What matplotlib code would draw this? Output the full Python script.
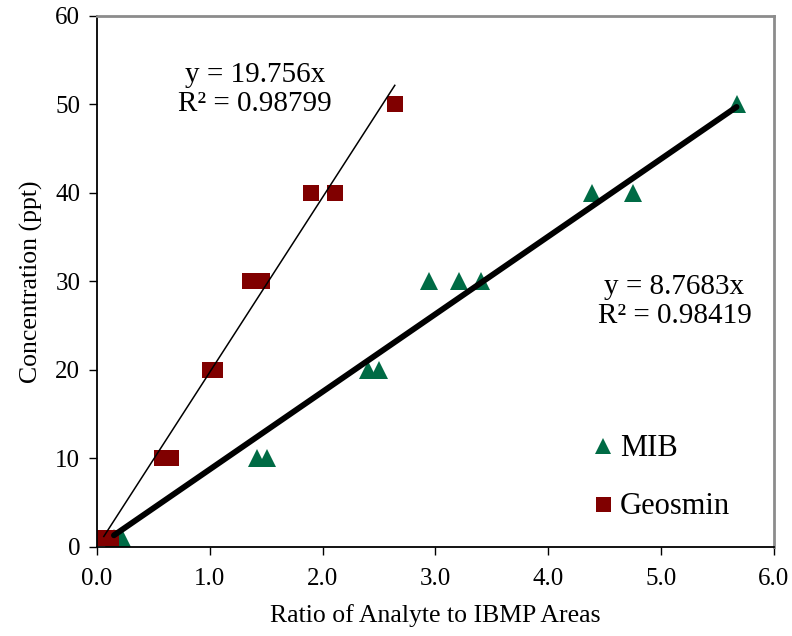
import numpy as np
import matplotlib.pyplot as plt

plt.rcParams['font.family'] = ['Liberation Serif', 'DejaVu Serif']

# Calibration data: analyte/IBMP area ratio vs spiked concentration
mib_ratio = [0.15, 0.22, 1.42, 1.51, 2.40, 2.50, 2.94, 3.21, 3.40, 4.39, 4.75, 5.67]
mib_conc = [1, 1, 10, 10, 20, 20, 30, 30, 30, 40, 40, 50]
geo_ratio = [0.06, 0.12, 0.58, 0.66, 1.00, 1.05, 1.36, 1.46, 1.90, 2.11, 2.64]
geo_conc = [1, 1, 10, 10, 20, 20, 30, 30, 40, 40, 50]

mib_slope = 8.7683
geo_slope = 19.756
mib_r2 = 0.98419
geo_r2 = 0.98799

green = '#006B45'
red = '#800000'

fig = plt.figure(figsize=(7.92, 6.36), dpi=100)
ax = fig.add_axes([0.1225, 0.140, 0.8545, 0.835])

# trend lines through origin, spanning each data range
xm = np.array([min(mib_ratio), max(mib_ratio)])
ax.plot(xm, mib_slope * xm, color='black', lw=4.2, solid_capstyle='round', zorder=3)
xg = np.array([min(geo_ratio), max(geo_ratio)])
ax.plot(xg, geo_slope * xg, color='black', lw=1.1, zorder=3)

ax.plot(mib_ratio, mib_conc, '^', color=green, ms=13, mew=0, ls='none', label='MIB', zorder=2)
ax.plot(geo_ratio, geo_conc, 's', color=red, ms=12, mew=0, ls='none', label='Geosmin', zorder=2)

ax.text(1.40, 51.7, 'y = %.3fx\nR² = %.5f' % (geo_slope, geo_r2), ha='center', va='center',
        fontsize=21, linespacing=1.15)
ax.text(5.12, 27.7, 'y = %.4fx\nR² = %.5f' % (mib_slope, mib_r2), ha='center', va='center',
        fontsize=21, linespacing=1.15)

ax.set_xlim(0, 6)
ax.set_ylim(0, 60)
ax.set_xticks(np.arange(0, 6.1, 1.0))
ax.set_xticklabels(['%.1f' % v for v in np.arange(0, 6.1, 1.0)])
ax.set_yticks(np.arange(0, 61, 10))
ax.tick_params(labelsize=18, direction='out', length=6, width=1)
ax.tick_params(axis='x', pad=9)
ax.tick_params(axis='y', pad=6)
ax.set_xlabel('Ratio of Analyte to IBMP Areas', fontsize=18.5, labelpad=10)
ax.set_ylabel('Concentration (ppt)', fontsize=18.5, labelpad=9)

for s in ['top', 'right']:
    ax.spines[s].set_color('#8c8c8c')
    ax.spines[s].set_linewidth(2)
for s in ['left', 'bottom']:
    ax.spines[s].set_linewidth(1.3)

ax.legend(loc='center left', bbox_to_anchor=(0.723, 0.13), frameon=False, fontsize=22,
          labelspacing=0.95, handletextpad=0.0, handlelength=1.1, markerscale=0.9,
          borderaxespad=0, borderpad=0)

fig.savefig('out.png', dpi=100)
